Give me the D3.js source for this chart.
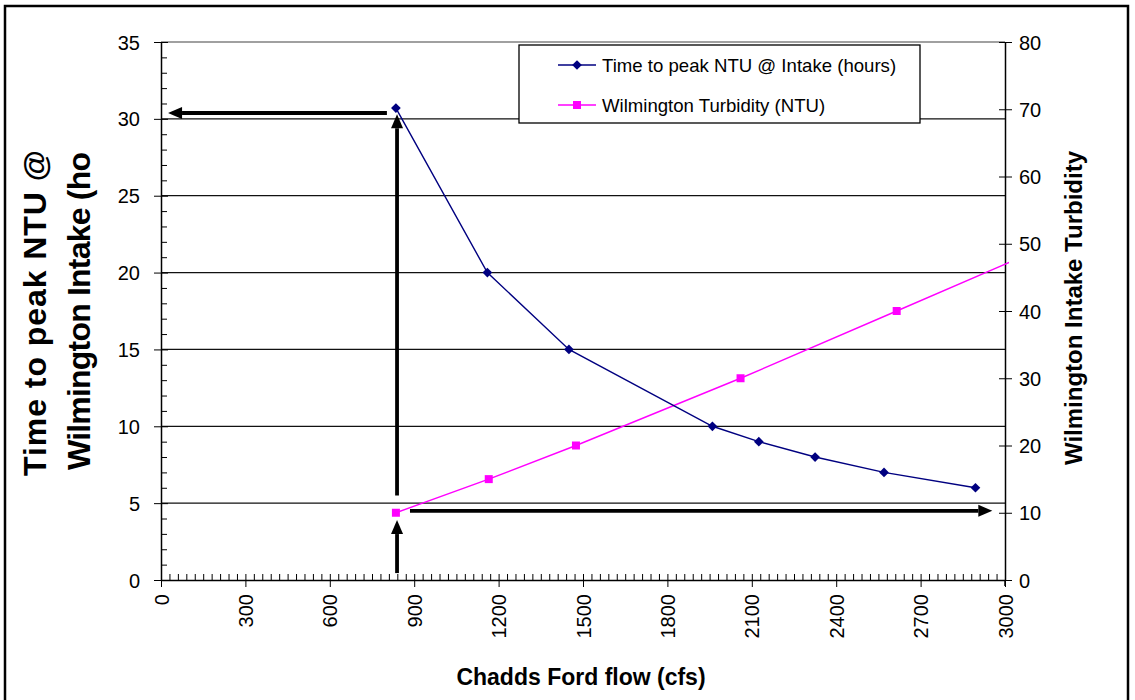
<!DOCTYPE html>
<html>
<head>
<meta charset="utf-8">
<script src="https://cdn.jsdelivr.net/npm/d3@7"></script>
<style>
  html, body { margin: 0; padding: 0; background: #fff; }
  svg { display: block; font-family: "Liberation Sans", Arial, sans-serif; }
</style>
</head>
<body>
<svg id="chart" width="1135" height="700"></svg>
<script>
// Chadds Ford flow (cfs) vs. travel time of the turbidity peak and the turbidity at Wilmington
const flowTime = [835, 1160, 1450, 1960, 2125, 2325, 2570, 2895];
const timeToPeak = [30.7, 20, 15, 10, 9, 8, 7, 6];

const flowTurb = [835, 1165, 1475, 2060, 2615, 3500];
const turbidity = [10, 15, 20, 30, 40, 56];
const turbMarkerCount = 5; // last point lies beyond the axis range

const xTicks = [0, 300, 600, 900, 1200, 1500, 1800, 2100, 2400, 2700, 3000];
const yLeftTicks = [0, 5, 10, 15, 20, 25, 30, 35];
const yRightTicks = [0, 10, 20, 30, 40, 50, 60, 70, 80];

const seriesNames = ["Time to peak NTU @ Intake (hours)", "Wilmington Turbidity (NTU)"];

// reading guides: [x1, y1, x2, y2] in flow / hours units
const guideArrows = [
  [803, 30.38, 25, 30.38],
  [839, 5.5, 839, 30.3],
  [839, 0.45, 839, 3.9],
  [885, 4.5, 2955, 4.5]
];

const svg = d3.select("#chart");
const plot = { left: 161, right: 1005, top: 42, bottom: 580 };

const x = d3.scaleLinear().domain([0, 3000]).range([plot.left, plot.right]);
const yL = d3.scaleLinear().domain([0, 35]).range([plot.bottom, plot.top]);
const yR = d3.scaleLinear().domain([0, 80]).range([plot.bottom, plot.top]);

const tickFont = 20;

// outer frame
svg.append("rect")
  .attr("x", 5).attr("y", 6).attr("width", 1123).attr("height", 710)
  .attr("fill", "#fff").attr("stroke", "#000").attr("stroke-width", 2.5);

// horizontal gridlines
svg.append("g").selectAll("line")
  .data(yLeftTicks.filter(d => d > 0))
  .join("line")
  .attr("x1", plot.left).attr("x2", plot.right)
  .attr("y1", d => yL(d)).attr("y2", d => yL(d))
  .attr("stroke", d => d === 35 ? "#808080" : "#111")
  .attr("stroke-width", 1.3);

// left axis
const gL = svg.append("g").attr("transform", `translate(${plot.left},0)`);
gL.call(d3.axisLeft(yL).tickValues(d3.range(0, 36, 1)).tickSize(0).tickFormat(""));
gL.select(".domain").attr("stroke", "#000").attr("stroke-width", 1.5);
gL.selectAll(".tick line").attr("x1", 0).attr("x2", 6).attr("stroke", "#000");
gL.selectAll(".tick").filter(d => d % 5 === 0).select("line")
  .attr("x1", -7).attr("x2", 7);
gL.selectAll(".tick").filter(d => d % 5 === 0).append("text")
  .attr("x", -21).attr("dy", "0.35em").attr("text-anchor", "end")
  .attr("fill", "#000").attr("font-size", tickFont)
  .attr("font-family", "Liberation Sans, Arial, sans-serif")
  .text(d => d);

// right axis
const gR = svg.append("g").attr("transform", `translate(${plot.right},0)`);
gR.call(d3.axisRight(yR).tickValues(yRightTicks).tickSize(0).tickFormat(""));
gR.select(".domain").attr("stroke", "#000").attr("stroke-width", 1.5);
gR.selectAll(".tick line").attr("x1", -6).attr("x2", 7).attr("stroke", "#000");
gR.selectAll(".tick").append("text")
  .attr("x", 14).attr("dy", "0.35em").attr("text-anchor", "start")
  .attr("fill", "#000").attr("font-size", tickFont)
  .attr("font-family", "Liberation Sans, Arial, sans-serif")
  .text(d => d);
svg.append("line").attr("x1", plot.right).attr("x2", plot.right)
  .attr("y1", plot.bottom).attr("y2", plot.bottom + 6).attr("stroke", "#000").attr("stroke-width", 1.5);

// bottom axis
const gX = svg.append("g").attr("transform", `translate(0,${plot.bottom})`);
gX.call(d3.axisBottom(x).tickValues(d3.range(0, 3001, 30)).tickSize(0).tickFormat(""));
gX.select(".domain").attr("stroke", "#000").attr("stroke-width", 1.5);
gX.selectAll(".tick line").attr("y1", -6).attr("y2", 0).attr("stroke", "#000");
gX.selectAll(".tick").filter(d => xTicks.includes(d)).select("line")
  .attr("y1", -6).attr("y2", 7);
gX.selectAll(".tick").filter(d => xTicks.includes(d)).append("text")
  .attr("transform", "rotate(-90)")
  .attr("x", -14).attr("dy", "0.35em").attr("text-anchor", "end")
  .attr("fill", "#000").attr("font-size", tickFont)
  .attr("font-family", "Liberation Sans, Arial, sans-serif")
  .text(d => d);

// clip for the series lines
svg.append("clipPath").attr("id", "plotclip").append("rect")
  .attr("x", plot.left).attr("y", plot.top - 5)
  .attr("width", plot.right - plot.left + 4).attr("height", plot.bottom - plot.top + 10);

const timeData = flowTime.map((f, i) => [f, timeToPeak[i]]);
const turbData = flowTurb.map((f, i) => [f, turbidity[i]]);

// turbidity (right axis)
svg.append("path")
  .datum(turbData)
  .attr("clip-path", "url(#plotclip)")
  .attr("fill", "none").attr("stroke", "#ff00ff").attr("stroke-width", 1.4)
  .attr("d", d3.line().x(d => x(d[0])).y(d => yR(d[1])));

svg.append("g").selectAll("rect")
  .data(turbData.slice(0, turbMarkerCount))
  .join("rect")
  .attr("x", d => x(d[0]) - 4).attr("y", d => yR(d[1]) - 4)
  .attr("width", 8).attr("height", 8).attr("fill", "#ff00ff");

// time to peak (left axis)
svg.append("path")
  .datum(timeData)
  .attr("fill", "none").attr("stroke", "#000080").attr("stroke-width", 1.4)
  .attr("d", d3.line().x(d => x(d[0])).y(d => yL(d[1])));

const diamond = d3.symbol().type(d3.symbolDiamond2).size(60);
svg.append("g").selectAll("path")
  .data(timeData)
  .join("path")
  .attr("transform", d => `translate(${x(d[0])},${yL(d[1])})`)
  .attr("d", diamond)
  .attr("fill", "#000080");

// guide arrows
const headLen = 14, headHalf = 6;
const gA = svg.append("g");
guideArrows.forEach(a => {
  const x1 = x(a[0]), y1 = yL(a[1]), x2 = x(a[2]), y2 = yL(a[3]);
  const ang = Math.atan2(y2 - y1, x2 - x1);
  const bx = x2 - headLen * Math.cos(ang), by = y2 - headLen * Math.sin(ang);
  gA.append("line")
    .attr("x1", x1).attr("y1", y1).attr("x2", bx).attr("y2", by)
    .attr("stroke", "#000").attr("stroke-width", 3.8);
  const px = -Math.sin(ang) * headHalf, py = Math.cos(ang) * headHalf;
  gA.append("path")
    .attr("d", `M${x2},${y2}L${bx + px},${by + py}L${bx - px},${by - py}Z`)
    .attr("fill", "#000");
});

// legend
const lg = svg.append("g");
lg.append("rect").attr("x", 519).attr("y", 45).attr("width", 401).attr("height", 78)
  .attr("fill", "#fff").attr("stroke", "#000").attr("stroke-width", 1.3);
const legendColors = ["#000080", "#ff00ff"];
seriesNames.forEach((name, i) => {
  const cy = 65 + i * 40;
  lg.append("line").attr("x1", 558).attr("x2", 596).attr("y1", cy).attr("y2", cy)
    .attr("stroke", legendColors[i]).attr("stroke-width", 1.4);
  if (i === 0) {
    lg.append("path").attr("transform", `translate(577,${cy})`).attr("d", diamond).attr("fill", legendColors[i]);
  } else {
    lg.append("rect").attr("x", 573).attr("y", cy - 4).attr("width", 8).attr("height", 8).attr("fill", legendColors[i]);
  }
  lg.append("text").attr("x", 602).attr("y", cy).attr("dy", "0.35em")
    .attr("font-size", 18.6).attr("fill", "#000").text(name);
});

// axis titles
svg.append("text")
  .attr("x", 581).attr("y", 685).attr("text-anchor", "middle")
  .attr("font-size", 23).attr("font-weight", "bold").attr("fill", "#000")
  .text("Chadds Ford flow (cfs)");

svg.append("text")
  .attr("transform", "translate(1082,308) rotate(-90)")
  .attr("text-anchor", "middle")
  .attr("font-size", 24).attr("font-weight", "bold").attr("fill", "#000")
  .text("Wilmington Intake Turbidity");

const leftTitle = svg.append("text")
  .attr("transform", "translate(0,313) rotate(-90)")
  .attr("text-anchor", "middle")
  .attr("font-size", 32).attr("font-weight", "bold").attr("fill", "#000");
leftTitle.append("tspan").attr("x", 0).attr("y", 46)
  .attr("textLength", 326).attr("lengthAdjust", "spacing")
  .text("Time to peak NTU @");
leftTitle.append("tspan").attr("x", 2).attr("y", 90)
  .attr("textLength", 318).attr("lengthAdjust", "spacing")
  .text("Wilmington Intake (ho");
</script>
</body>
</html>
